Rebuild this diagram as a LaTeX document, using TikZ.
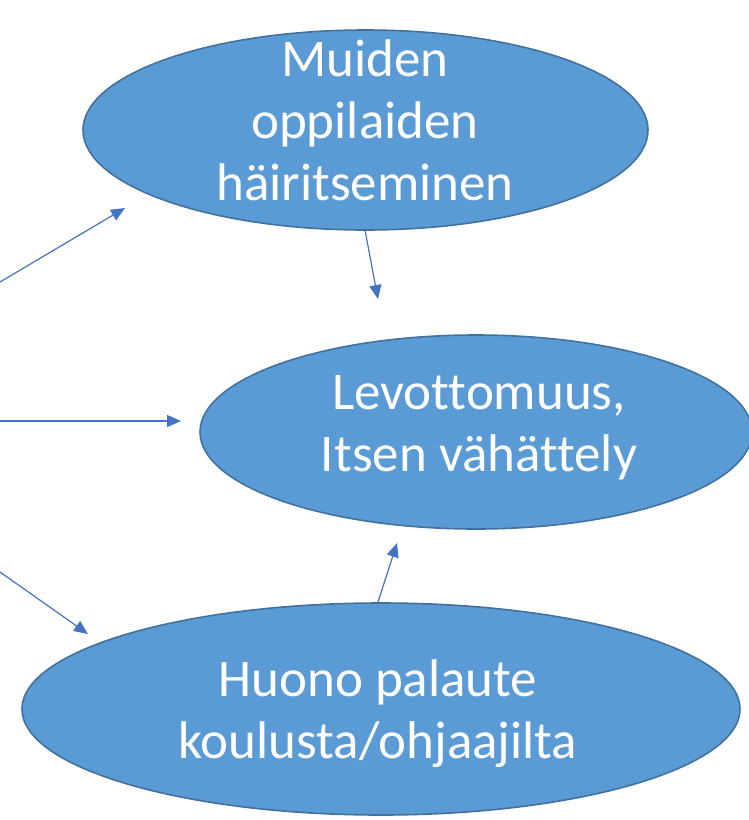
\documentclass[tikz,border=0pt]{standalone}
\usepackage{fontspec}
\setmainfont[Ligatures={NoCommon}]{Carlito}
\usetikzlibrary{shapes.geometric,arrows.meta}
\definecolor{efill}{HTML}{5B9BD5}
\definecolor{edraw}{HTML}{41719C}
\definecolor{arr}{HTML}{4472C4}
\tikzset{
  bubble/.style={ellipse, fill=efill, draw=edraw, line width=1.6pt, inner sep=0pt},
  label/.style={text=white, align=center, font=\fontsize{53}{62}\selectfont, inner sep=0pt},
  conn/.style={draw=arr, line width=1.2pt, -{Triangle[length=14pt,width=12pt]}}
}
\begin{document}
\begin{tikzpicture}[x=1pt,y=-1pt]
\useasboundingbox (0,0) rectangle (749,820);
\node[bubble, minimum width=565pt, minimum height=200pt] (top) at (365.5,130) {};
\node[bubble, minimum width=552pt, minimum height=194pt] (mid) at (476,432) {};
\node[bubble, minimum width=718pt, minimum height=212pt] (bot) at (381,709) {};
\node[label] (ttop) at (365,120) {Muiden\\oppilaiden\\häiritseminen};
\node[label] (tmid) at (479,428) {Levottomuus,\\Itsen vähättely};
\node[label] (tbot) at (378,714) {Huono palaute\\koulusta/ohjaajilta};
\coordinate (a1s) at (0,282);
\coordinate (a1e) at (125,208);
\coordinate (a2s) at (0,421);
\coordinate (a2e) at (181,421);
\coordinate (a3s) at (0,572);
\coordinate (a3e) at (88,634);
\coordinate (a4s) at (365,230);
\coordinate (a4e) at (378,299);
\coordinate (a5s) at (378,602);
\coordinate (a5e) at (397,543);
\draw[conn] (a1s) -- (a1e);
\draw[conn] (a2s) -- (a2e);
\draw[conn] (a3s) -- (a3e);
\draw[conn] (a4s) -- (a4e);
\draw[conn] (a5s) -- (a5e);
\end{tikzpicture}
\end{document}
